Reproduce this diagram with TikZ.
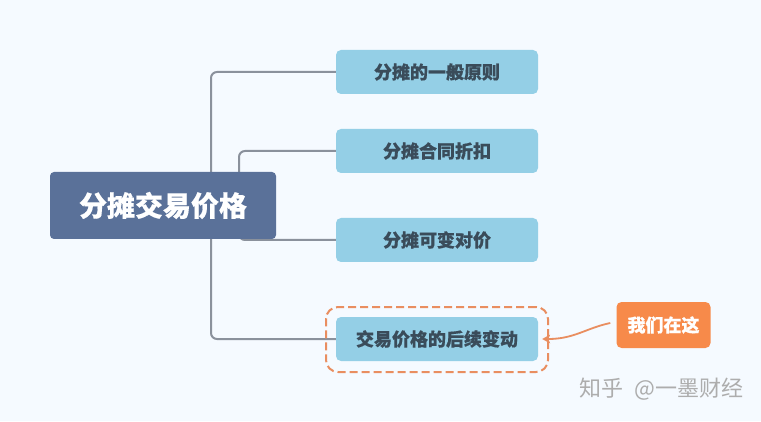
\documentclass[tikz,border=0pt]{standalone}
\usepackage{fontspec}
\setmainfont{Noto Sans CJK SC}[BoldFont={Noto Sans CJK SC Black},BoldFeatures={FakeBold=0.5}]
\definecolor{pagebg}{HTML}{F5FAFF}
\definecolor{rootfill}{HTML}{5A7199}
\definecolor{leaffill}{HTML}{94CFE6}
\definecolor{leaftext}{HTML}{3A4C5A}
\definecolor{linecol}{HTML}{8A919C}
\definecolor{orangefill}{HTML}{F78A4A}
\definecolor{orangeline}{HTML}{E98E60}
\pgfdeclarelayer{edges}
\pgfsetlayers{edges,main}
\tikzset{
  rootbox/.style={fill=rootfill,rounded corners=4pt,minimum width=226pt,minimum height=67pt,inner sep=0pt,text=white,font=\fontsize{28}{28}\selectfont\bfseries},
  leafbox/.style={fill=leaffill,rounded corners=5pt,minimum width=202pt,minimum height=44pt,inner sep=0pt,text=leaftext,font=\fontsize{18}{18}\selectfont\bfseries},
  tagbox/.style={fill=orangefill,rounded corners=5pt,minimum width=94pt,minimum height=46pt,inner sep=0pt,text=white,font=\fontsize{18}{18}\selectfont\bfseries},
  halo/.style={draw=orangeline,line width=2pt,dash pattern=on 8pt off 4pt,rounded corners=12pt,minimum width=222pt,minimum height=65pt,inner sep=0pt},
  conn/.style={draw=linecol,line width=2pt,rounded corners=6pt},
  pointer/.style={draw=orangeline,line width=1.8pt},
  pointer head/.style={fill=orangeline},
  mark text/.style={text=black!32,inner sep=0pt,font=\fontsize{22}{22}\selectfont}
}
\begin{document}
\begin{tikzpicture}[x=1pt,y=1pt]
\useasboundingbox (0,0) rectangle (761,421);
\begin{pgfonlayer}{edges}
\fill[pagebg] (0,0) rectangle (761,421);
\end{pgfonlayer}
\node[rootbox] (root) at (163,215.5) {分摊交易价格};
\node[leafbox] (a) at (437,349) {分摊的一般原则};
\node[leafbox] (b) at (437,270) {分摊合同折扣};
\node[leafbox] (c) at (437,181) {分摊可变对价};
\node[leafbox] (d) at (437,82) {交易价格的后续变动};
\node[halo] (ring) at (437,81.5) {};
\node[tagbox] (tag) at (663.5,96) {我们在这};
\node[mark text,anchor=west] (wm) at (579,31.5) {知乎\hspace{0.5em}@一墨财经};
\begin{pgfonlayer}{edges}
\draw[conn] ([xshift=48pt]root.center) |- (a.west);
\draw[conn] ([xshift=76pt]root.center) |- (b.west);
\draw[conn] ([xshift=76pt]root.center) |- (c.west);
\draw[conn] ([xshift=48pt]root.center) |- (d.west);
\end{pgfonlayer}
\coordinate (tipend) at ([xshift=4pt]d.east);
\coordinate (tipbase) at ([xshift=6pt]tipend);
\draw[pointer] ([xshift=-6pt,yshift=2pt]tag.west) .. controls ([xshift=-30pt,yshift=-3pt]tag.west) and ([xshift=-42pt,yshift=-14pt]tag.west) .. (tipbase);
\fill[pointer head] (tipend) -- ++(8,4.5) -- ++(-2,-4.5) -- ++(2,-4.5) -- cycle;
\end{tikzpicture}
\end{document}
